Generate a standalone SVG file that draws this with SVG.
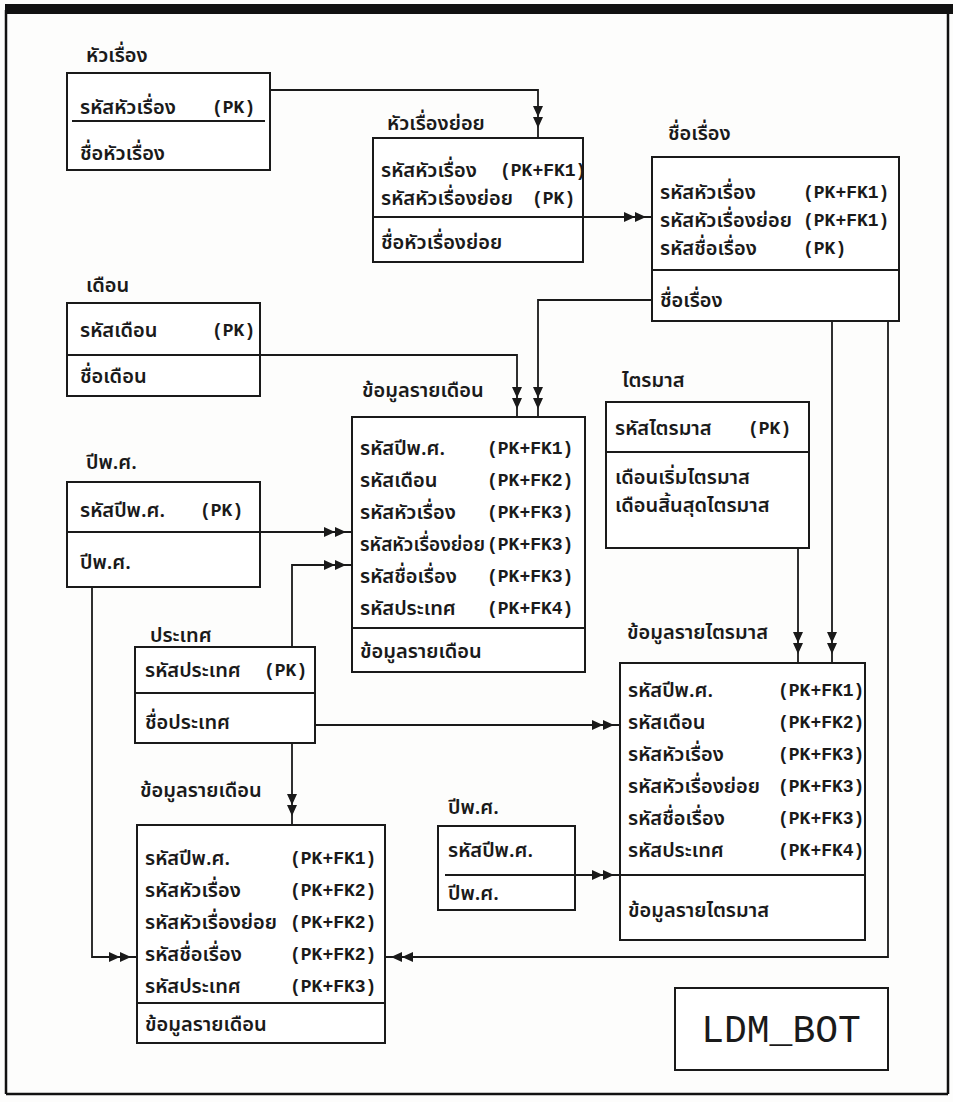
<svg xmlns="http://www.w3.org/2000/svg" xmlns:xlink="http://www.w3.org/1999/xlink" width="953" height="1102" viewBox="0 0 953 1102">
<style>
.bg{fill:#fdfdfc}
.box{fill:#ffffff;stroke:#1a1a1a;stroke-width:2}
.dv{stroke:#1a1a1a;stroke-width:2}
.th{font-family:"Noto Sans Thai","Noto Sans","DejaVu Sans",sans-serif;font-size:20px;font-weight:600;fill:#1a1a1a}
.pk{font-family:"Liberation Mono",monospace;font-size:18px;font-weight:bold;fill:#1a1a1a}
.conn{fill:none;stroke:#1a1a1a;stroke-width:1.8}
.ah{fill:#1a1a1a}
.frame{fill:none;stroke:#111;stroke-width:2.5}
.ldm{font-family:"Liberation Mono",monospace;font-size:38px;fill:#1a1a1a}
</style>
<defs>
<path id="ah2" d="M0,0 L-11,-5 L-11,5 Z M-11,0 L-22,-5 L-22,5 Z"/>
</defs>
<rect class="bg" x="0" y="0" width="953" height="1102"/>
<g id="frame">
<rect x="5" y="4" width="948" height="10" fill="#111"/>
<line class="frame" x1="6" y1="10" x2="6" y2="1094"/>
<line class="frame" x1="948" y1="10" x2="948" y2="1094"/>
<line class="frame" x1="6" y1="1094" x2="948" y2="1094"/>
</g>
<g id="connectors">
<path class="conn" d="M270,90 H538 V138"/>
<path class="conn" d="M583,217 H652"/>
<path class="conn" d="M652,300 H538 V417"/>
<path class="conn" d="M260,355 H517 V417"/>
<path class="conn" d="M832,321 V663"/>
<path class="conn" d="M888,321 V957 H385"/>
<path class="conn" d="M798,548 V663"/>
<path class="conn" d="M260,532 H352"/>
<path class="conn" d="M292,647 V565 H352"/>
<path class="conn" d="M92,587 V957 H137"/>
<path class="conn" d="M315,725 H620"/>
<path class="conn" d="M292,743 V825"/>
<path class="conn" d="M575,875 H620"/>
<g class="ah">
<use xlink:href="#ah2" transform="translate(538,128) rotate(90)"/>
<use xlink:href="#ah2" transform="translate(646,217)"/>
<use xlink:href="#ah2" transform="translate(538,409) rotate(90)"/>
<use xlink:href="#ah2" transform="translate(517,409) rotate(90)"/>
<use xlink:href="#ah2" transform="translate(346,532)"/>
<use xlink:href="#ah2" transform="translate(346,565)"/>
<use xlink:href="#ah2" transform="translate(292,816) rotate(90)"/>
<use xlink:href="#ah2" transform="translate(614,725)"/>
<use xlink:href="#ah2" transform="translate(614,875)"/>
<use xlink:href="#ah2" transform="translate(798,654) rotate(90)"/>
<use xlink:href="#ah2" transform="translate(832,654) rotate(90)"/>
<use xlink:href="#ah2" transform="translate(131,957)"/>
<use xlink:href="#ah2" transform="translate(391,957) rotate(180)"/>
</g>
</g>
<g id="topic">
<text class="th" x="86" y="62">หัวเรื่อง</text>
<rect class="box" x="67" y="73" width="203" height="97"/>
<line class="dv" x1="72" y1="121" x2="265" y2="121"/>
<text class="th" x="80" y="114">รหัสหัวเรื่อง</text>
<text class="pk" x="212" y="113">(PK)</text>
<text class="th" x="80" y="160">ชื่อหัวเรื่อง</text>
</g>
<g id="subtopic">
<text class="th" x="387" y="130">หัวเรื่องย่อย</text>
<rect class="box" x="373" y="138" width="210" height="124"/>
<line class="dv" x1="373" y1="217" x2="583" y2="217"/>
<text class="th" x="381" y="177">รหัสหัวเรื่อง</text>
<text class="pk" x="500" y="176">(PK+FK1)</text>
<text class="th" x="381" y="205">รหัสหัวเรื่องย่อย</text>
<text class="pk" x="532" y="204">(PK)</text>
<text class="th" x="381" y="249">ชื่อหัวเรื่องย่อย</text>
</g>
<g id="title">
<text class="th" x="668" y="140">ชื่อเรื่อง</text>
<rect class="box" x="652" y="157" width="247" height="164"/>
<line class="dv" x1="652" y1="270" x2="899" y2="270"/>
<text class="th" x="660" y="199">รหัสหัวเรื่อง</text>
<text class="pk" x="803" y="198">(PK+FK1)</text>
<text class="th" x="660" y="227">รหัสหัวเรื่องย่อย</text>
<text class="pk" x="803" y="226">(PK+FK1)</text>
<text class="th" x="660" y="255">รหัสชื่อเรื่อง</text>
<text class="pk" x="803" y="254">(PK)</text>
<text class="th" x="660" y="307">ชื่อเรื่อง</text>
</g>
<g id="month">
<text class="th" x="86" y="292">เดือน</text>
<rect class="box" x="67" y="303" width="193" height="93"/>
<line class="dv" x1="67" y1="355" x2="260" y2="355"/>
<text class="th" x="80" y="337">รหัสเดือน</text>
<text class="pk" x="212" y="336">(PK)</text>
<text class="th" x="80" y="383">ชื่อเดือน</text>
</g>
<g id="monthly-data">
<text class="th" x="362" y="397">ข้อมูลรายเดือน</text>
<rect class="box" x="352" y="417" width="233" height="255"/>
<line class="dv" x1="352" y1="628" x2="585" y2="628"/>
<text class="th" x="360" y="455">รหัสปีพ.ศ.</text>
<text class="pk" x="487" y="454">(PK+FK1)</text>
<text class="th" x="360" y="487">รหัสเดือน</text>
<text class="pk" x="487" y="486">(PK+FK2)</text>
<text class="th" x="360" y="519">รหัสหัวเรื่อง</text>
<text class="pk" x="487" y="518">(PK+FK3)</text>
<text class="th" x="360" y="551" textLength="125" lengthAdjust="spacingAndGlyphs">รหัสหัวเรื่องย่อย</text>
<text class="pk" x="487" y="550">(PK+FK3)</text>
<text class="th" x="360" y="583">รหัสชื่อเรื่อง</text>
<text class="pk" x="487" y="582">(PK+FK3)</text>
<text class="th" x="360" y="615">รหัสประเทศ</text>
<text class="pk" x="487" y="614">(PK+FK4)</text>
<text class="th" x="360" y="658">ข้อมูลรายเดือน</text>
</g>
<g id="quarter">
<text class="th" x="622" y="387">ไตรมาส</text>
<rect class="box" x="606" y="402" width="203" height="146"/>
<line class="dv" x1="606" y1="452" x2="809" y2="452"/>
<text class="th" x="615" y="435">รหัสไตรมาส</text>
<text class="pk" x="748" y="434">(PK)</text>
<text class="th" x="615" y="484">เดือนเริ่มไตรมาส</text>
<text class="th" x="615" y="512">เดือนสิ้นสุดไตรมาส</text>
</g>
<g id="year">
<text class="th" x="86" y="469">ปีพ.ศ.</text>
<rect class="box" x="67" y="482" width="193" height="105"/>
<line class="dv" x1="67" y1="532" x2="260" y2="532"/>
<text class="th" x="80" y="517">รหัสปีพ.ศ.</text>
<text class="pk" x="200" y="516">(PK)</text>
<text class="th" x="80" y="569">ปีพ.ศ.</text>
</g>
<g id="country">
<text class="th" x="150" y="642">ประเทศ</text>
<rect class="box" x="135" y="647" width="180" height="96"/>
<line class="dv" x1="135" y1="693" x2="315" y2="693"/>
<text class="th" x="145" y="677">รหัสประเทศ</text>
<text class="pk" x="264" y="676">(PK)</text>
<text class="th" x="145" y="729">ชื่อประเทศ</text>
</g>
<g id="monthly-data-2">
<text class="th" x="140" y="797">ข้อมูลรายเดือน</text>
<rect class="box" x="137" y="825" width="248" height="218"/>
<line class="dv" x1="137" y1="1003" x2="385" y2="1003"/>
<text class="th" x="145" y="865">รหัสปีพ.ศ.</text>
<text class="pk" x="290" y="864">(PK+FK1)</text>
<text class="th" x="145" y="897">รหัสหัวเรื่อง</text>
<text class="pk" x="290" y="896">(PK+FK2)</text>
<text class="th" x="145" y="929">รหัสหัวเรื่องย่อย</text>
<text class="pk" x="290" y="928">(PK+FK2)</text>
<text class="th" x="145" y="961">รหัสชื่อเรื่อง</text>
<text class="pk" x="290" y="960">(PK+FK2)</text>
<text class="th" x="145" y="993">รหัสประเทศ</text>
<text class="pk" x="290" y="992">(PK+FK3)</text>
<text class="th" x="145" y="1031">ข้อมูลรายเดือน</text>
</g>
<g id="year-2">
<text class="th" x="448" y="814">ปีพ.ศ.</text>
<rect class="box" x="438" y="826" width="137" height="84"/>
<line class="dv" x1="445" y1="875" x2="575" y2="875"/>
<text class="th" x="448" y="857">รหัสปีพ.ศ.</text>
<text class="th" x="448" y="900">ปีพ.ศ.</text>
</g>
<g id="quarterly-data">
<text class="th" x="627" y="639">ข้อมูลรายไตรมาส</text>
<rect class="box" x="620" y="663" width="245" height="277"/>
<line class="dv" x1="620" y1="875" x2="865" y2="875"/>
<text class="th" x="628" y="697">รหัสปีพ.ศ.</text>
<text class="pk" x="778" y="696">(PK+FK1)</text>
<text class="th" x="628" y="729">รหัสเดือน</text>
<text class="pk" x="778" y="728">(PK+FK2)</text>
<text class="th" x="628" y="761">รหัสหัวเรื่อง</text>
<text class="pk" x="778" y="760">(PK+FK3)</text>
<text class="th" x="628" y="793">รหัสหัวเรื่องย่อย</text>
<text class="pk" x="778" y="792">(PK+FK3)</text>
<text class="th" x="628" y="825">รหัสชื่อเรื่อง</text>
<text class="pk" x="778" y="824">(PK+FK3)</text>
<text class="th" x="628" y="857">รหัสประเทศ</text>
<text class="pk" x="778" y="856">(PK+FK4)</text>
<text class="th" x="628" y="917">ข้อมูลรายไตรมาส</text>
</g>
<g id="ldm-bot">
<rect class="box" x="675" y="988" width="213" height="82"/>
<text class="ldm" x="781" y="1042" text-anchor="middle">LDM_BOT</text>
</g>
</svg>
